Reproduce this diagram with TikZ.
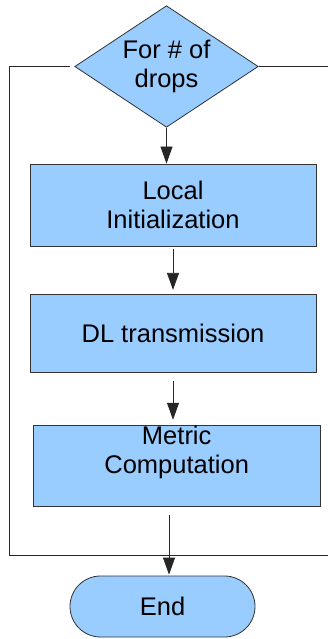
\documentclass[tikz,border=0pt]{standalone}
\usepackage{fontspec}
\setmainfont{Liberation Sans}
\usetikzlibrary{shapes.geometric,arrows.meta}
\definecolor{boxfill}{HTML}{99CCFF}
\begin{document}
\begin{tikzpicture}[x=1pt,y=-1pt,
  every node/.style={font=\fontsize{25.5}{29.5}\selectfont, align=center, inner sep=0pt},
  outline/.style={draw=black!80, fill=boxfill, line width=0.8pt},
  decision/.style={outline, shape=diamond, aspect=1.51, minimum width=183.5pt, minimum height=121.6pt},
  process/.style={outline, shape=rectangle},
  terminal/.style={outline, shape=rectangle, rounded corners=30.5pt, minimum width=185pt, minimum height=61pt},
  wire/.style={draw=black!85, line width=0.8pt},
  flow/.style={wire, -{Triangle[length=17pt,width=12pt]}}]
\useasboundingbox (0,0) rectangle (328,639);

% loop header and process steps
\node[decision] (loop) at (166.5,66.5) {For \# of\\drops};
\node[process, minimum width=286pt, minimum height=82pt] (init) at (173,205) {Local\\Initialization};
\node[process, minimum width=286pt, minimum height=78pt] (dl) at (173,333.3) {DL transmission};
\node[process, minimum width=286.7pt, minimum height=81.7pt] (metric) at (176.7,466) {};
\node (metrictext) at (176.7,452.5) {Metric\\Computation};
\node[terminal] (end) at (162.5,606.5) {End};

% loop frame around the body
\coordinate (lt) at (9.5,66.5);
\coordinate (lb) at (9.5,555);
\coordinate (rb) at (328,555);
\coordinate (rt) at (328,66.5);
\draw[wire] ([xshift=-4pt]loop.west) -- (lt) -- (lb) -- (rb);
\draw[wire] (loop.east) -- (rt);

% flow arrows
\draw[flow] (loop.south) -- (loop.south |- init.north);
\draw[flow, shorten <=3pt, shorten >=4pt] (init) -- (dl);
\draw[flow, shorten <=8pt, shorten >=5pt] (dl.south) -- (dl.south |- metric.north);
\draw[flow, shorten <=8pt, shorten >=1pt] ([xshift=-7.7pt]metric.south) -- ([xshift=-7.7pt]metric.south |- end.north);
\end{tikzpicture}
\end{document}
